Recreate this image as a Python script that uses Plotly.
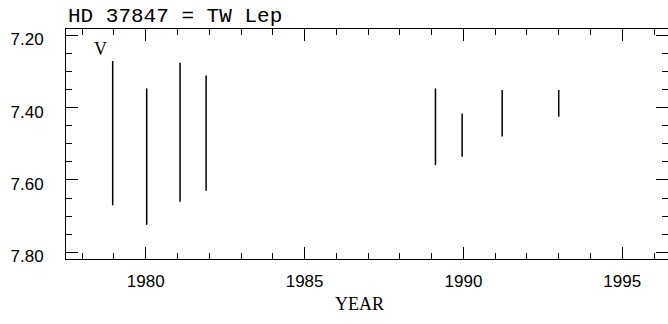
import plotly.graph_objects as go

# Observed V-magnitude ranges per observing season
years = [1978.96, 1980.03, 1981.08, 1981.90, 1989.12, 1989.96, 1991.22, 1993.00]
v_bright = [7.271, 7.347, 7.276, 7.311, 7.347, 7.416, 7.351, 7.351]
v_faint = [7.670, 7.724, 7.660, 7.630, 7.559, 7.536, 7.480, 7.425]

x_ticks = [1980, 1985, 1990, 1995]
y_ticks = [7.20, 7.40, 7.60, 7.80]
y_ticklabels = ["7.20", "7.40", "7.60", "7.80"]
x_minor = [yr for yr in range(1978, 1997) if yr % 5]
y_minor = [round(7.20 + 0.05 * k, 2) for k in range(13) if k % 4]

title_text = "HD 37847 = TW Lep"
band_text = "V"
x_title = "YEAR"

x_range = [1977.49, 1996.44]
y_range = [7.8185, 7.1826]

# one trace of vertical segments, separated by gaps
seg_x, seg_y = [], []
for yr, lo, hi in zip(years, v_bright, v_faint):
    seg_x += [yr, yr, None]
    seg_y += [lo, hi, None]

fig = go.Figure()
fig.add_trace(go.Scatter(x=seg_x, y=seg_y, mode="lines",
                         line=dict(color="black", width=1.5),
                         hoverinfo="skip", showlegend=False))
# empty traces that bind the tick-only axes
fig.add_trace(go.Scatter(x=[], y=[], xaxis="x2", yaxis="y2",
                         hoverinfo="skip", showlegend=False))
fig.add_trace(go.Scatter(x=[], y=[], xaxis="x3", yaxis="y3",
                         hoverinfo="skip", showlegend=False))

tick_font = dict(family="Liberation Sans, Arial, sans-serif", size=17, color="black")
plain = dict(showgrid=False, gridcolor="white", gridwidth=0, zeroline=False,
             showspikes=False, tickmode="array")
ticked = dict(plain, ticks="inside", tickwidth=1, tickcolor="black",
              mirror="allticks", showline=False, showticklabels=False)

fig.update_layout(
    template="none",
    width=668, height=324,
    margin=dict(l=66, r=0, t=29, b=65),
    paper_bgcolor="white", plot_bgcolor="white",
    showlegend=False, hovermode=False,
    # frame lines and tick labels
    xaxis=dict(range=x_range, tickvals=x_ticks, ticks="outside", ticklen=7,
               tickcolor="rgba(0,0,0,0)", showline=True, mirror=True,
               linecolor="black", linewidth=1, tickfont=tick_font, **plain),
    yaxis=dict(range=y_range, tickvals=y_ticks, ticktext=y_ticklabels,
               ticks="outside", ticklen=6, tickcolor="rgba(0,0,0,0)",
               showline=True, mirror=True, linecolor="black", linewidth=1,
               tickfont=tick_font, ticklabelstandoff=12, ticklabelshift=-4,
               **plain),
    # major tick marks
    xaxis2=dict(range=x_range, overlaying="x", side="bottom", anchor="y2",
                tickvals=x_ticks, ticklen=12, **ticked),
    yaxis2=dict(range=y_range, overlaying="y", side="left", anchor="x2",
                tickvals=y_ticks, ticklen=12, **ticked),
    # minor tick marks
    xaxis3=dict(range=x_range, overlaying="x", side="bottom", anchor="y3",
                tickvals=x_minor, ticklen=6, **ticked),
    yaxis3=dict(range=y_range, overlaying="y", side="left", anchor="x3",
                tickvals=y_minor, ticklen=6, **ticked),
)

fig.add_annotation(text=title_text, xref="paper", yref="paper",
                   x=0, y=1, xanchor="left", yanchor="bottom", yshift=-1,
                   showarrow=False,
                   font=dict(family="Liberation Mono, Courier New, monospace",
                             size=21, color="black"))
fig.add_annotation(text=band_text, xref="x", yref="paper",
                   x=1978.58, y=1, xanchor="center", yanchor="top", yshift=-8,
                   showarrow=False,
                   font=dict(family="Liberation Serif, Times New Roman, serif",
                             size=18, color="black"))
fig.add_annotation(text=x_title, xref="paper", yref="paper",
                   x=0.488, y=0, xanchor="center", yanchor="top", yshift=-33,
                   showarrow=False,
                   font=dict(family="Liberation Serif, Times New Roman, serif",
                             size=18, color="black"))

fig.write_html("out.html")
